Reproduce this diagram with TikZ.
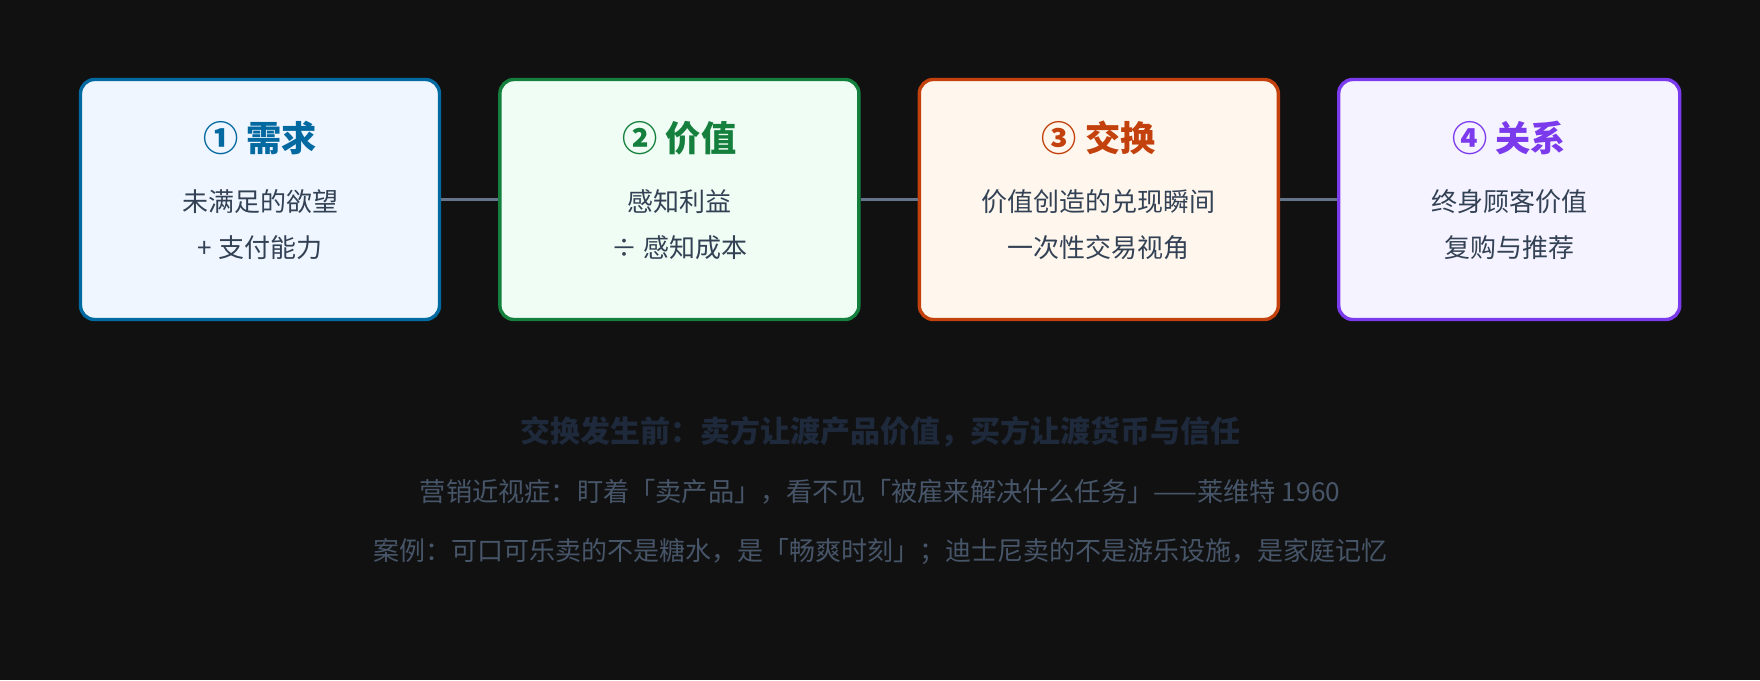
\documentclass[tikz,border=0pt]{standalone}
\usepackage{fontspec}
\setmainfont{Noto Sans CJK SC}
\usetikzlibrary{positioning}
\definecolor{bg}{HTML}{111111}
\definecolor{needc}{HTML}{0369A1}
\definecolor{needf}{HTML}{EFF6FF}
\definecolor{valuec}{HTML}{15803D}
\definecolor{valuef}{HTML}{F0FDF4}
\definecolor{tradec}{HTML}{C2410C}
\definecolor{tradef}{HTML}{FFF7ED}
\definecolor{bondc}{HTML}{7C3AED}
\definecolor{bondf}{HTML}{F5F3FF}
\definecolor{bodyc}{HTML}{334155}
\definecolor{linkc}{HTML}{64748B}
\definecolor{notec}{HTML}{1E293B}
\definecolor{subc}{HTML}{475569}
\newcommand{\gap}{28.5pt}

\begin{document}
\begin{tikzpicture}[x=0.5pt, y=-0.5pt,
        card/.style = {draw, line width=1.7pt, rounded corners=7pt,
                minimum width=179.5pt, minimum height=120pt},
        ttl/.style = {font=\fontsize{17.6}{20}\selectfont\bfseries},
        txt/.style = {font=\fontsize{13}{16}\selectfont, text=bodyc},
        link/.style = {draw=linkc, line width=1.75pt}]
        \fill[bg] (0,0) rectangle (1760,680);
        \useasboundingbox (0,0) rectangle (1760,680);
        % cards
        \node[card, draw=needc, fill=needf] (b1) at (260,199.5) {};
        \node[card, draw=valuec, fill=valuef, right=\gap of b1] (b2) {};
        \node[card, draw=tradec, fill=tradef, right=\gap of b2] (b3) {};
        \node[card, draw=bondc, fill=bondf, minimum width=170.5pt, right=\gap of b3] (b4) {};
        \draw[link] (b1) -- (b2);
        \draw[link] (b2) -- (b3);
        \draw[link] (b3) -- (b4);
        % texts
        \node[ttl, text=needc] (t1) at ([yshift=-30pt]b1.north) {① 需求};
        \node[txt] (l1a) at ([yshift=-62pt]b1.north) {未满足的欲望};
        \node[txt] (l1b) at ([yshift=-85pt]b1.north) {+ 支付能力};
        \node[ttl, text=valuec] (t2) at ([yshift=-30pt]b2.north) {② 价值};
        \node[txt] (l2a) at ([yshift=-62pt]b2.north) {感知利益};
        \node[txt] (l2b) at ([yshift=-85pt]b2.north) {÷ 感知成本};
        \node[ttl, text=tradec] (t3) at ([yshift=-30pt]b3.north) {③ 交换};
        \node[txt] (l3a) at ([yshift=-62pt]b3.north) {价值创造的兑现瞬间};
        \node[txt] (l3b) at ([yshift=-85pt]b3.north) {一次性交易视角};
        \node[ttl, text=bondc] (t4) at ([yshift=-30pt]b4.north) {④ 关系};
        \node[txt] (l4a) at ([yshift=-62pt]b4.north) {终身顾客价值};
        \node[txt] (l4b) at ([yshift=-85pt]b4.north) {复购与推荐};
        % notes
        %\draw[help lines] (0,0) grid (1760,680);
        \node[font=\fontsize{15}{18}\selectfont\bfseries, text=notec] (n1) at (880,432)
                {交换发生前：卖方让渡产品价值，买方让渡货币与信任};
        \node[font=\fontsize{13.1}{16}\selectfont, text=subc] (n2) at (880,492)
                {营销近视症：盯着「卖产品」，看不见「被雇来解决什么任务」——莱维特 1960};
        \node[font=\fontsize{13}{16}\selectfont, text=subc] (n3) at (880,552)
                {案例：可口可乐卖的不是糖水，是「畅爽时刻」；迪士尼卖的不是游乐设施，是家庭记忆};
\end{tikzpicture}
\end{document}
